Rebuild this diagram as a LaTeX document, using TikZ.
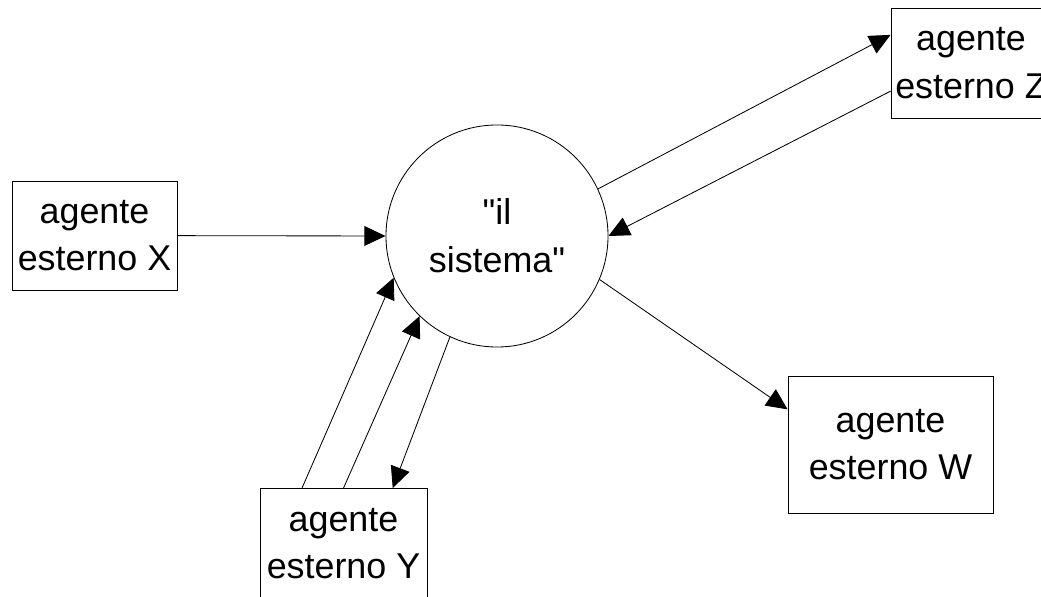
\documentclass[tikz,border=0pt]{standalone}
\usepackage{fontspec}
\setmainfont{Liberation Sans}
\usetikzlibrary{positioning, arrows.meta}

\begin{document}
\begin{tikzpicture}[x=0.025cm,y=-0.025cm,line width=0.6pt,
		agent/.style={draw,rectangle,align=center,inner sep=0pt,font=\fontsize{25.5}{34}\selectfont},
		sys/.style={draw,circle,align=center,inner sep=0pt,minimum size=5.55cm,font=\fontsize{25.5}{34}\selectfont},
		flow/.style={-{Triangle[length=15pt,width=14pt]}}]
			\useasboundingbox (0,0) rectangle (1041,597);
			\node[sys] (s) at (497,236)		{\textquotedbl il\\sistema\textquotedbl};
			\node[agent,minimum width=4.125cm,minimum height=2.725cm] (x) at (94.5,235.5)	{agente\\esterno X};
			\node[agent,minimum width=4cm,minimum height=2.75cm] (z) at (971,63)			{agente\\esterno Z};
			\node[agent,minimum width=4.175cm,minimum height=2.75cm] (y) at (343.5,543.5)	{agente\\esterno Y};
			\node[agent,minimum width=5.125cm,minimum height=3.425cm] (w) at (890.5,444.5)	{agente\\esterno W};
			\path[flow] 	(x) edge 	(s.west)
						(s.25) edge 	([yshift=20pt]z.west)
						([yshift=-20pt]z.west) edge 	(s.0)
						(s.-23) edge 	([yshift=25pt]w.west)
						([xshift=-29.5pt]y.north) edge 	(s.202)
						(y.north) edge 	(s.226)
						(s.245) edge 	([xshift=35pt]y.north);
	\end{tikzpicture}
\end{document}
